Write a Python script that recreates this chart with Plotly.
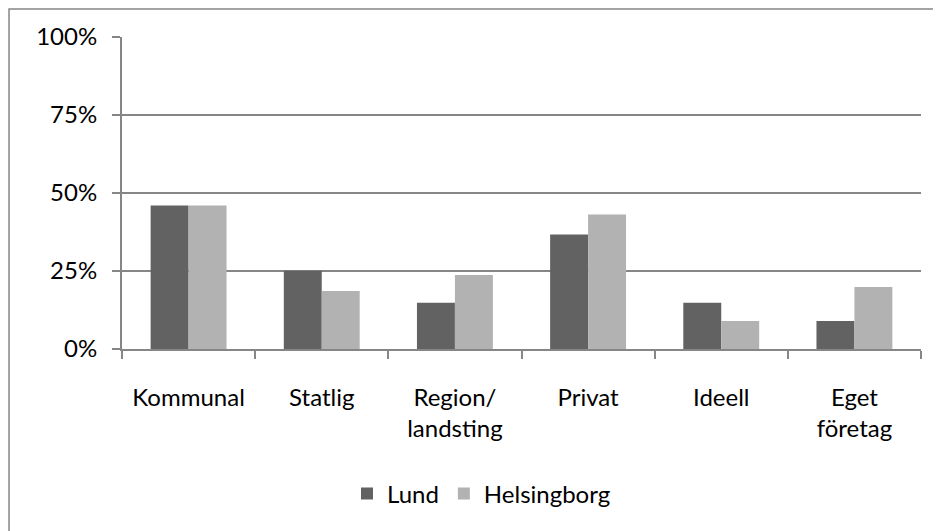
import plotly.graph_objects as go

categories = ["Kommunal", "Statlig", "Region/<br>landsting", "Privat", "Ideell", "Eget<br>företag"]
lund = [0.46, 0.251, 0.148, 0.367, 0.148, 0.09]
helsingborg = [0.46, 0.186, 0.237, 0.431, 0.09, 0.199]
y_ticks = [0, 0.25, 0.5, 0.75, 1.0]
y_ticklabels = ["0%", "25%", "50%", "75%", "100%"]

FONT = "Lato"
GRAY = "#868686"
FS = 24

fig = go.Figure()
fig.add_trace(go.Bar(name="Lund", x=categories, y=lund, marker=dict(color="#626262", line=dict(width=0))))
fig.add_trace(go.Bar(name="Helsingborg", x=categories, y=helsingborg, marker=dict(color="#b2b2b2", line=dict(width=0))))

fig.update_layout(
    width=941, height=531,
    margin=dict(l=114, r=28, t=29, b=190, autoexpand=False),
    paper_bgcolor="white", plot_bgcolor="white",
    barmode="group", bargap=0.43, bargroupgap=0,
    font=dict(family=FONT, size=FS, color="black"),
    showlegend=True,
    legend=dict(orientation="h", x=0.2816, xanchor="left", y=-0.4647, yanchor="middle",
                font=dict(family=FONT, size=FS, color="black"), traceorder="normal",
                bgcolor="rgba(0,0,0,0)"),
    shapes=[dict(type="rect", xref="paper", yref="paper", x0=-0.1414, x1=1.2, y0=-0.8, y1=1.0897,
                 line=dict(color=GRAY, width=1.5))],
)
fig.update_xaxes(showline=True, linecolor=GRAY, linewidth=2, ticks="outside", tickson="boundaries",
                 ticklen=8, tickcolor=GRAY, tickwidth=1.5, showgrid=False, ticklabelstandoff=26,
                 automargin=False, tickfont=dict(family=FONT, size=FS, color="black"))
fig.update_yaxes(range=[0, 1], tickvals=y_ticks, ticktext=y_ticklabels, showline=True, linecolor=GRAY,
                 linewidth=2, ticks="outside", ticklen=8, tickcolor=GRAY, tickwidth=1.5,
                 showgrid=True, gridcolor=GRAY, gridwidth=1.5, zeroline=False, ticklabelstandoff=10,
                 automargin=False, tickfont=dict(family=FONT, size=FS, color="black"))

fig.write_html("out.html")
